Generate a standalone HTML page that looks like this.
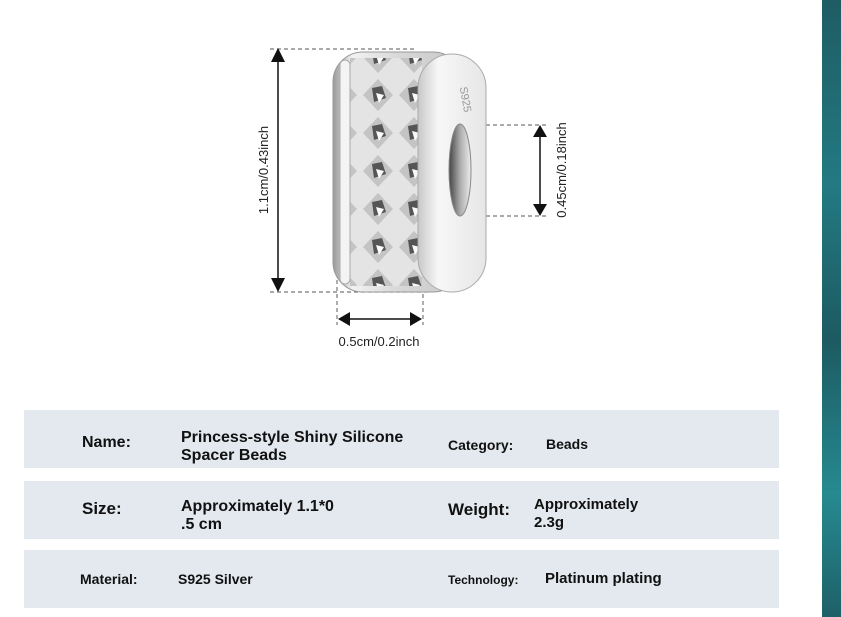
<!DOCTYPE html>
<html><head><style>
body{margin:0;width:841px;height:617px;background:#fff;position:relative;overflow:hidden;font-family:"Liberation Sans","DejaVu Sans",sans-serif}
.row{position:absolute;left:24px;width:755px;height:58px;background:#e3e9ef}
.t{position:absolute;font-weight:bold;color:#111;line-height:18px}
</style></head><body>
<svg width="841" height="400" style="position:absolute;left:0;top:0">
<defs>
<linearGradient id="band" x1="0" x2="1"><stop offset="0" stop-color="#9a9a9a"/><stop offset=".15" stop-color="#f2f2f2"/><stop offset=".5" stop-color="#d8d8d8"/><stop offset="1" stop-color="#c8c8c8"/></linearGradient>
<linearGradient id="face" x1="0" x2="1"><stop offset="0" stop-color="#c8c8c8"/><stop offset=".3" stop-color="#f7f7f7"/><stop offset="1" stop-color="#e6e6e6"/></linearGradient>
<linearGradient id="hole" x1="0" x2="1"><stop offset="0" stop-color="#444"/><stop offset=".5" stop-color="#aaa"/><stop offset="1" stop-color="#eee"/></linearGradient>
<pattern id="gem" width="36" height="38" patternUnits="userSpaceOnUse"><rect width="36" height="38" fill="#e4e4e4"/><path d="M18 3 L33 19 L18 35 L3 19Z" fill="#c4c4c4"/><path d="M12 12 L22 10 L26 22 L14 26Z" fill="#555"/><path d="M16 17 L24 19 L19 27Z" fill="#fafafa"/></pattern>
</defs>
<g stroke="#777" stroke-width="1.2" stroke-dasharray="4,3" fill="none">
<line x1="270" y1="49" x2="415" y2="49"/><line x1="270" y1="292" x2="430" y2="292"/>
<line x1="337" y1="168" x2="337" y2="325"/><line x1="423" y1="168" x2="423" y2="325"/>
<line x1="458" y1="125" x2="546" y2="125"/><line x1="458" y1="216" x2="546" y2="216"/>
</g>
<g stroke="#111" stroke-width="1.5">
<line x1="278" y1="60" x2="278" y2="280"/><line x1="540" y1="135" x2="540" y2="206"/><line x1="348" y1="319" x2="412" y2="319"/>
</g>
<g fill="#111">
<path d="M271 62 L285 62 L278 48Z"/><path d="M271 278 L285 278 L278 292Z"/>
<path d="M533 137 L547 137 L540 125Z"/><path d="M533 204 L547 204 L540 216Z"/>
<path d="M350 312 L350 326 L338 319Z"/><path d="M410 312 L410 326 L422 319Z"/>
</g>
<rect x="333" y="52" width="130" height="240" rx="30" fill="url(#band)" stroke="#999"/>
<rect x="350" y="58" width="72" height="228" fill="url(#gem)"/>
<rect x="340" y="60" width="10" height="224" rx="5" fill="#f4f4f4" stroke="#aaa"/>
<rect x="418" y="54" width="68" height="238" rx="34" fill="url(#face)" stroke="#aaa"/>
<ellipse cx="460" cy="170" rx="11" ry="46" fill="url(#hole)" stroke="#888"/>
<text x="462" y="100" font-size="11" fill="#999" transform="rotate(80 462 100)" text-anchor="middle">S925</text>
<g font-size="13" fill="#222">
<text x="268" y="170" transform="rotate(-90 268 170)" text-anchor="middle">1.1cm/0.43inch</text>
<text x="566" y="170" transform="rotate(-90 566 170)" text-anchor="middle">0.45cm/0.18inch</text>
<text x="379" y="346" text-anchor="middle">0.5cm/0.2inch</text>
</g>
</svg>
<div style="position:absolute;left:822px;top:0;width:19px;height:617px;background:linear-gradient(180deg,#1f5c64,#237a82 30%,#1d5a62 55%,#268a90 80%,#1e6068)"></div>
<div class="row" style="top:410px"></div>
<div class="row" style="top:481px"></div>
<div class="row" style="top:550px"></div>
<div class="t" style="left:82px;top:434px;font-size:16px">Name:</div>
<div class="t" style="left:181px;top:429px;font-size:16px">Princess-style Shiny Silicone<br>Spacer Beads</div>
<div class="t" style="left:448px;top:436px;font-size:14px">Category:</div>
<div class="t" style="left:546px;top:435px;font-size:14px">Beads</div>
<div class="t" style="left:82px;top:500px;font-size:17px">Size:</div>
<div class="t" style="left:181px;top:498px;font-size:16px">Approximately 1.1*0<br>.5 cm</div>
<div class="t" style="left:448px;top:501px;font-size:17px">Weight:</div>
<div class="t" style="left:534px;top:496px;font-size:15px">Approximately<br>2.3g</div>
<div class="t" style="left:80px;top:570px;font-size:14px">Material:</div>
<div class="t" style="left:178px;top:570px;font-size:14px">S925 Silver</div>
<div class="t" style="left:448px;top:571px;font-size:12px">Technology:</div>
<div class="t" style="left:545px;top:570px;font-size:15px">Platinum plating</div>
</body></html>
